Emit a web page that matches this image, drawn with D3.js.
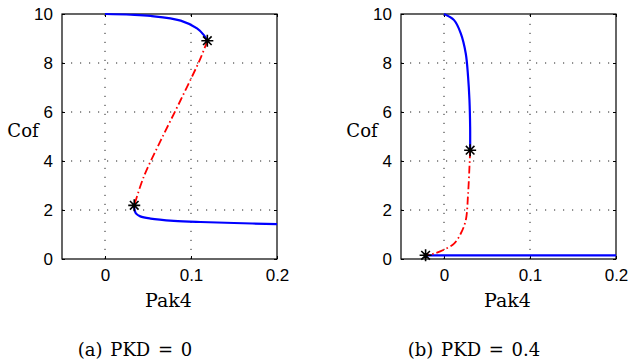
<!DOCTYPE html>
<html>
<head>
  <script src="https://d3js.org/d3.v7.min.js"></script>
  <style>
    body { margin: 0; background: #fff; }
    .tick-label { font-family: "Liberation Sans", Arial, sans-serif; font-size: 17px; fill: #000; }
    .grid { stroke: #222; stroke-width: 1; stroke-dasharray: 1.2,7.8; }
    .stable { fill: none; stroke: #0000ff; stroke-width: 2.2; }
    .unstable { fill: none; stroke: #ff0000; stroke-width: 1.8; stroke-dasharray: 8,3,1.5,3; }
    .star { fill: none; stroke: #000; stroke-width: 1.6; }
    .lbl { font-family: "DejaVu Serif", serif; fill: #000; }
  </style>
</head>
<body>
  <svg id="chart" width="630" height="361"></svg>
  <script>
    var xTicks = [0, 0.1, 0.2];
    var yTicks = [0, 2, 4, 6, 8, 10];
    var xLabel = "Pak4";
    var yLabel = "Cof";
    var captions = ["(a) PKD = 0", "(b) PKD = 0.4"];

    // panel (a)
    var aUpper = [[0, 10], [0.03, 9.97], [0.053, 9.92], [0.088, 9.73], [0.107, 9.41], [0.115, 9.14], [0.119, 8.91]];
    var aUnstable = [[0.119, 8.91], [0.111, 8.19], [0.088, 6.49], [0.065, 4.85], [0.045, 3.35], [0.034, 2.19]];
    var aLower = [[0.034, 2.19], [0.0343, 2.02], [0.0362, 1.85], [0.041, 1.74], [0.053, 1.65], [0.08, 1.56], [0.111, 1.51], [0.15, 1.47], [0.2, 1.42]];
    var aFolds = [[0.119, 8.91], [0.034, 2.19]];

    // panel (b)
    var bUpper = [[0, 10], [0.0117, 9.75], [0.0195, 9.21], [0.0253, 8.39], [0.028, 7.44], [0.0296, 6.49], [0.0304, 5.39], [0.0304, 4.44]];
    var bUnstable = [[0.0304, 4.44], [0.0296, 3.76], [0.028, 2.67], [0.0253, 1.58], [0.0195, 1.04], [0.0117, 0.63], [0, 0.38], [-0.0117, 0.22], [-0.0214, 0.15]];
    var bLower = [[-0.0214, 0.15], [0.2, 0.15]];
    var bFolds = [[0.0304, 4.44], [-0.0214, 0.15]];

    var svg = d3.select("#chart");

    function panel(left, right, upper, unstable, lower, folds, caption, capX) {
      var top = 14, bottom = 259;
      var x = d3.scaleLinear().domain([-0.05, 0.2]).range([left, right]);
      var y = d3.scaleLinear().domain([0, 10]).range([bottom, top]);
      var g = svg.append("g");

      // dotted grid
      g.selectAll(".gx").data(xTicks.filter(function(d) { return d > -0.05 && d < 0.2; }))
        .enter().append("line").attr("class", "grid")
        .attr("x1", function(d) { return x(d); }).attr("x2", function(d) { return x(d); })
        .attr("y1", bottom).attr("y2", top);
      g.selectAll(".gy").data(yTicks.filter(function(d) { return d > 0 && d < 10; }))
        .enter().append("line").attr("class", "grid")
        .attr("y1", function(d) { return y(d); }).attr("y2", function(d) { return y(d); })
        .attr("x1", left).attr("x2", right);

      // axes, ticks inside like matlab
      g.append("g").attr("transform", "translate(0," + bottom + ")")
        .call(d3.axisBottom(x).tickValues(xTicks).tickSizeInner(-3).tickSizeOuter(0).tickPadding(10).tickFormat(d3.format("")))
        .call(function(a) { a.select(".domain").remove(); a.selectAll("text").attr("class", "tick-label").attr("fill", null); });
      g.append("g").attr("transform", "translate(" + left + ",0)")
        .call(d3.axisLeft(y).tickValues(yTicks).tickSizeInner(-3).tickSizeOuter(0).tickPadding(9))
        .call(function(a) { a.select(".domain").remove(); a.selectAll("text").attr("class", "tick-label").attr("fill", null); });
      g.append("g").attr("transform", "translate(0," + top + ")")
        .call(d3.axisTop(x).tickValues(xTicks).tickSizeInner(-3).tickSizeOuter(0).tickFormat(""))
        .call(function(a) { a.select(".domain").remove(); });
      g.append("g").attr("transform", "translate(" + right + ",0)")
        .call(d3.axisRight(y).tickValues(yTicks).tickSizeInner(-3).tickSizeOuter(0).tickFormat(""))
        .call(function(a) { a.select(".domain").remove(); });
      g.append("rect").attr("x", left).attr("y", top).attr("width", right - left).attr("height", bottom - top)
        .attr("fill", "none").attr("stroke", "#000").attr("stroke-width", 1.2);

      var line = d3.line().x(function(d) { return x(d[0]); }).y(function(d) { return y(d[1]); }).curve(d3.curveCatmullRom);
      g.append("path").datum(upper).attr("class", "stable").attr("d", line);
      g.append("path").datum(lower).attr("class", "stable").attr("d", line);
      g.append("path").datum(unstable).attr("class", "unstable").attr("d", line);

      // asterisk markers: plus + times
      var r = 6, q = 4.3;
      g.selectAll(".star").data(folds).enter().append("path").attr("class", "star")
        .attr("transform", function(d) { return "translate(" + x(d[0]) + "," + y(d[1]) + ")"; })
        .attr("d", "M" + (-r) + ",0H" + r + "M0," + (-r) + "V" + r +
          "M" + (-q) + "," + (-q) + "L" + q + "," + q + "M" + (-q) + "," + q + "L" + q + "," + (-q));

      svg.append("text").attr("class", "lbl").attr("x", left - 39).attr("y", 137)
        .attr("text-anchor", "middle").style("font-size", "18px").text(yLabel);
      svg.append("text").attr("class", "lbl").attr("x", (left + right) / 2 - 1).attr("y", 307)
        .attr("text-anchor", "middle").style("font-size", "19px").text(xLabel);
      svg.append("text").attr("class", "lbl").attr("x", capX).attr("y", 356)
        .attr("text-anchor", "middle").style("font-size", "18px")
        .style("word-spacing", "2px").text(caption);
    }

    panel(62, 277, aUpper, aUnstable, aLower, aFolds, captions[0], 135);
    panel(401, 616, bUpper, bUnstable, bLower, bFolds, captions[1], 474);
  </script>
</body>
</html>
